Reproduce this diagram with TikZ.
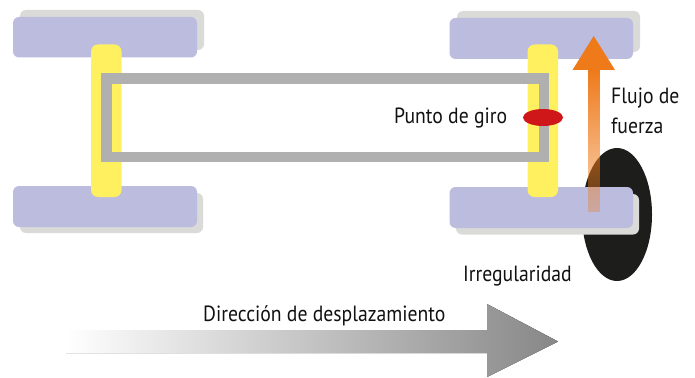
\documentclass[tikz,border=0pt]{standalone}
\usepackage{fontspec}
\setmainfont[FakeStretch=0.895]{PT Sans}
\usetikzlibrary{fadings}
\definecolor{wheelc}{HTML}{BCBCDE}
\definecolor{shadowc}{HTML}{DADAD8}
\definecolor{axlec}{HTML}{FFF060}
\definecolor{framec}{HTML}{B0B0B0}
\definecolor{redc}{HTML}{CF1719}
\definecolor{bumpc}{HTML}{1D1D1B}
\definecolor{orangec}{HTML}{EE7A1A}
\definecolor{textc}{HTML}{111111}
\tikzfading[name=shaftfade, top color=transparent!0, middle color=transparent!50, bottom color=transparent!70]
\tikzset{
  wheel/.style={fill=wheelc, draw=none, rounded corners=6pt},
  wheelshadow/.style={fill=shadowc, draw=none, rounded corners=6pt},
  axle/.style={fill=axlec, draw=none, rounded corners=7pt},
  label/.style={text=textc, font=\fontsize{22}{24}\selectfont, anchor=base west, inner sep=0pt}
}
\begin{document}
\begin{tikzpicture}[x=1pt,y=-1pt]
\useasboundingbox (0,0) rectangle (695,377);
% irregularity
\fill[bumpc] (617,214.5) ellipse [x radius=35, y radius=66.5];
% shadows
\fill[wheelshadow] (20,10) rectangle (204,50);
\fill[wheelshadow] (20,193) rectangle (203,233);
\fill[wheelshadow] (457,11) rectangle (640,52);
\fill[wheelshadow] (456,194) rectangle (639,234.5);
% wheels
\fill[wheel] (13,17) rectangle (197,57.5);
\fill[wheel] (13,186) rectangle (197,227);
\fill[wheel] (449.5,18) rectangle (633,59);
\fill[wheel] (449.5,187) rectangle (633,228);
% axles
\fill[axle] (91,44.5) rectangle (121.5,197);
\fill[axle] (527.5,44.5) rectangle (558,197);
% frame
\draw[framec, line width=10.5pt] (106.3,78.3) rectangle (544,157);
% pivot
\fill[redc] (543,117.5) ellipse [x radius=20, y radius=8.5];
% force arrow
\fill[orangec, path fading=shaftfade] (587.5,70) rectangle (600,212.5);
\fill[orangec] (593.7,36) -- (615,70) -- (572.5,70) -- cycle;
% travel arrow
\fill[shading=axis, left color=white, middle color=black!19, right color=black!47, draw=none]
  (66,330) -- (487,330) -- (487,304) -- (558,341.5) -- (487,377) -- (487,353) -- (66,353) -- cycle;
% labels
\node[label] (giro) at (394,124) {Punto de giro};
\node[label] (flujo) at (611,103) {Flujo de};
\node[label] (fuerza) at (611,133) {fuerza};
\node[label] (irr) at (463,281) {Irregularidad};
\node[label] (dir) at (203,321) {Dirección de desplazamiento};
\end{tikzpicture}
\end{document}
